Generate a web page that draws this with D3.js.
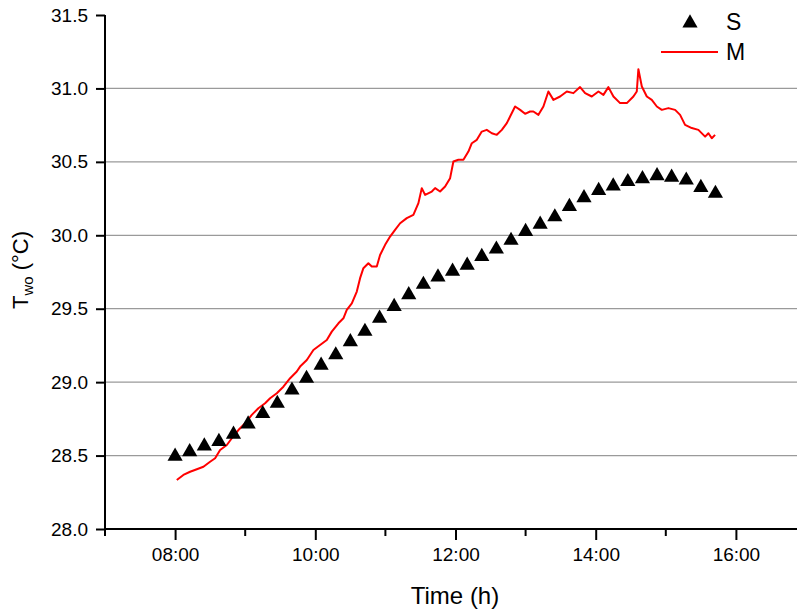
<!DOCTYPE html>
<html>
<head>
<meta charset="utf-8">
<script src="https://cdn.jsdelivr.net/npm/d3@7/dist/d3.min.js"></script>
<style>
  html, body { margin: 0; padding: 0; background: #fff; }
  svg { display: block; font-family: "Liberation Sans", Arial, sans-serif; }
</style>
</head>
<body>
<svg id="chart" width="797" height="613"></svg>
<script>
// ---- data ----
const sTimes = [8.000, 8.208, 8.417, 8.625, 8.833, 9.042, 9.250, 9.458, 9.667, 9.875,
  10.083, 10.292, 10.500, 10.708, 10.917, 11.125, 11.333, 11.542, 11.750, 11.958,
  12.167, 12.375, 12.583, 12.792, 13.000, 13.208, 13.417, 13.625, 13.833, 14.042,
  14.250, 14.458, 14.667, 14.875, 15.083, 15.292, 15.500, 15.708];
const sValues = [28.51, 28.54, 28.58, 28.61, 28.66, 28.73, 28.80, 28.87, 28.96, 29.04,
  29.13, 29.20, 29.29, 29.36, 29.45, 29.53, 29.61, 29.68, 29.73, 29.77,
  29.81, 29.87, 29.92, 29.98, 30.04, 30.09, 30.14, 30.21, 30.27, 30.32,
  30.35, 30.38, 30.40, 30.42, 30.41, 30.39, 30.34, 30.30];

const mTimes = [8.024, 8.118, 8.214, 8.310, 8.404, 8.499, 8.571, 8.642, 8.738, 8.809,
  8.903, 8.999, 9.094, 9.188, 9.284, 9.355, 9.451, 9.545, 9.641, 9.736,
  9.783, 9.879, 9.973, 10.068, 10.164, 10.235, 10.330, 10.401, 10.449, 10.521,
  10.592, 10.639, 10.686, 10.757, 10.806, 10.877, 10.924, 10.996, 11.067, 11.138,
  11.210, 11.305, 11.399, 11.471, 11.519, 11.566, 11.662, 11.709, 11.780, 11.852,
  11.923, 11.970, 12.041, 12.113, 12.184, 12.233, 12.304, 12.375, 12.446, 12.518,
  12.589, 12.661, 12.732, 12.779, 12.850, 12.922, 12.993, 13.064, 13.111, 13.183,
  13.254, 13.325, 13.397, 13.492, 13.588, 13.682, 13.777, 13.849, 13.944, 14.039,
  14.110, 14.181, 14.253, 14.348, 14.444, 14.538, 14.586, 14.609, 14.658, 14.729,
  14.800, 14.872, 14.943, 15.037, 15.133, 15.204, 15.275, 15.371, 15.465, 15.561,
  15.608, 15.656, 15.703];
const mValues = [28.334, 28.368, 28.390, 28.407, 28.424, 28.458, 28.482, 28.538, 28.572, 28.618,
  28.674, 28.720, 28.777, 28.822, 28.856, 28.890, 28.924, 28.969, 29.027, 29.072,
  29.106, 29.151, 29.219, 29.253, 29.287, 29.344, 29.401, 29.435, 29.492, 29.537,
  29.617, 29.708, 29.776, 29.810, 29.787, 29.787, 29.866, 29.935, 29.991, 30.037,
  30.082, 30.117, 30.139, 30.219, 30.321, 30.275, 30.298, 30.321, 30.298, 30.332,
  30.389, 30.502, 30.514, 30.514, 30.570, 30.627, 30.650, 30.706, 30.718, 30.695,
  30.684, 30.718, 30.764, 30.809, 30.877, 30.854, 30.827, 30.843, 30.843, 30.820,
  30.877, 30.979, 30.922, 30.945, 30.979, 30.968, 31.009, 30.968, 30.945, 30.979,
  30.956, 31.009, 30.945, 30.900, 30.900, 30.945, 30.979, 31.131, 31.013, 30.945,
  30.922, 30.877, 30.854, 30.866, 30.854, 30.820, 30.752, 30.730, 30.718, 30.672,
  30.695, 30.661, 30.684];

const yTicks = [28.0, 28.5, 29.0, 29.5, 30.0, 30.5, 31.0, 31.5];
const yGrid = [28.5, 29.0, 29.5, 30.0, 30.5, 31.0];
const xMajorTicks = [8, 10, 12, 14, 16];
const xMinorTicks = [7, 9, 11, 13, 15];
const xTickLabels = ["08:00", "10:00", "12:00", "14:00", "16:00"];
const seriesNames = ["S", "M"];

// ---- drawing ----
const svg = d3.select("#chart");
const x = d3.scaleLinear().domain([7, 17]).range([105, 806]);
const y = d3.scaleLinear().domain([28, 31.5]).range([529, 15]);

// gridlines
svg.append("g").selectAll("line").data(yGrid).join("line")
  .attr("x1", x(7)).attr("x2", 797)
  .attr("y1", d => y(d)).attr("y2", d => y(d))
  .attr("stroke", "#9a9a9a").attr("stroke-width", 1.2);

// M line
const line = d3.line().x(d => x(d[0])).y(d => y(d[1]));
svg.append("path")
  .datum(mTimes.map((t, i) => [t, mValues[i]]))
  .attr("d", line)
  .attr("fill", "none")
  .attr("stroke", "#ff0000")
  .attr("stroke-width", 2)
  .attr("stroke-linejoin", "round");

// S triangles
const tri = d3.symbol().type(d3.symbolTriangle).size(100);
svg.append("g").selectAll("path").data(sTimes.map((t, i) => [t, sValues[i]])).join("path")
  .attr("d", tri)
  .attr("transform", d => `translate(${x(d[0])},${y(d[1]) + 2.2})`)
  .attr("fill", "#000");

// Y axis
const yAxis = svg.append("g").attr("transform", `translate(${x(7)},0)`)
  .call(d3.axisLeft(y).tickValues(yTicks).tickFormat(d3.format(".1f")).tickSize(9).tickPadding(8));
yAxis.select(".domain").attr("stroke", "#000").attr("stroke-width", 2)
  .attr("d", `M0,${y(31.5)}V${y(28) + 1}`);
yAxis.selectAll(".tick line").attr("stroke", "#000").attr("stroke-width", 2);
yAxis.selectAll(".tick text").attr("font-size", 19).attr("fill", "#000")
  .attr("font-family", "Liberation Sans, Arial, sans-serif");

// X axis
const xAxis = svg.append("g").attr("transform", `translate(0,${y(28)})`)
  .call(d3.axisBottom(x).tickValues(xMajorTicks)
    .tickFormat((d, i) => xTickLabels[i]).tickSize(11).tickPadding(8));
xAxis.select(".domain").attr("stroke", "#000").attr("stroke-width", 2)
  .attr("d", `M${x(7) - 1},0H797`);
xAxis.selectAll(".tick line").attr("stroke", "#000").attr("stroke-width", 2);
xAxis.selectAll(".tick text").attr("font-size", 19).attr("fill", "#000")
  .attr("font-family", "Liberation Sans, Arial, sans-serif");
xAxis.append("g").selectAll("line").data(xMinorTicks).join("line")
  .attr("x1", d => x(d)).attr("x2", d => x(d))
  .attr("y1", 0).attr("y2", 7)
  .attr("stroke", "#000").attr("stroke-width", 2);

// Axis titles
svg.append("text")
  .attr("x", 455).attr("y", 604)
  .attr("text-anchor", "middle")
  .attr("font-size", 24)
  .text("Time (h)");

const yt = svg.append("text")
  .attr("transform", "translate(28,270) rotate(-90)")
  .attr("text-anchor", "middle")
  .attr("font-size", 22);
yt.append("tspan").text("T");
yt.append("tspan").attr("font-size", 15).attr("dy", 5).text("wo");
yt.append("tspan").attr("dy", -5).text(" (°C)");

// Legend
svg.append("path")
  .attr("d", tri)
  .attr("transform", "translate(690,23)")
  .attr("fill", "#000");
svg.append("text").attr("x", 726).attr("y", 30).attr("font-size", 23).text(seriesNames[0]);
svg.append("line")
  .attr("x1", 661).attr("x2", 718).attr("y1", 52).attr("y2", 52)
  .attr("stroke", "#ff0000").attr("stroke-width", 2);
svg.append("text").attr("x", 726).attr("y", 60).attr("font-size", 23).text(seriesNames[1]);
</script>
</body>
</html>
